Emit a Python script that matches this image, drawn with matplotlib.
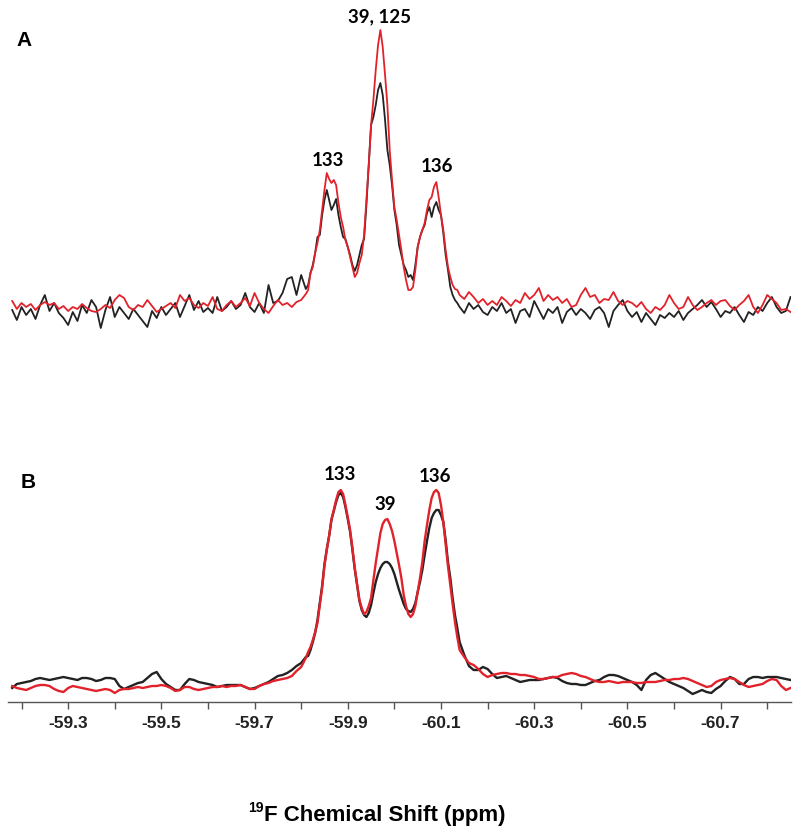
import matplotlib
matplotlib.use("Agg")
import matplotlib.pyplot as plt
import numpy as np

# chemical shift grid (ppm), shared by both panels
ppm = [
    -59.18, -59.19, -59.20, -59.21, -59.22, -59.23, -59.24, -59.25, -59.26, -59.27,
    -59.28, -59.29, -59.30, -59.31, -59.32, -59.33, -59.34, -59.35, -59.36, -59.37,
    -59.38, -59.39, -59.40, -59.41, -59.42, -59.43, -59.44, -59.45, -59.46, -59.47,
    -59.48, -59.49, -59.50, -59.51, -59.52, -59.53, -59.54, -59.55, -59.56, -59.57,
    -59.58, -59.59, -59.60, -59.61, -59.62, -59.63, -59.64, -59.65, -59.66, -59.67,
    -59.68, -59.69, -59.70, -59.71, -59.72, -59.73, -59.74, -59.75, -59.76, -59.77,
    -59.78, -59.79, -59.80, -59.81,
    -59.815, -59.820, -59.825, -59.830, -59.835, -59.840, -59.845, -59.850, -59.855, -59.860,
    -59.865, -59.870, -59.875, -59.880, -59.885, -59.890, -59.895, -59.900, -59.905, -59.910,
    -59.915, -59.920, -59.925, -59.930, -59.935, -59.940, -59.945, -59.950, -59.955, -59.960,
    -59.965, -59.970, -59.975, -59.980, -59.985, -59.990, -59.995, -60.000, -60.005, -60.010,
    -60.015, -60.020, -60.025, -60.030, -60.035, -60.040, -60.045, -60.050, -60.055, -60.060,
    -60.065, -60.070, -60.075, -60.080, -60.085, -60.090, -60.095, -60.100, -60.105, -60.110,
    -60.115, -60.120, -60.125, -60.130, -60.135,
    -60.14, -60.15, -60.16, -60.17, -60.18, -60.19, -60.20, -60.21, -60.22, -60.23,
    -60.24, -60.25, -60.26, -60.27, -60.28, -60.29, -60.30, -60.31, -60.32, -60.33,
    -60.34, -60.35, -60.36, -60.37, -60.38, -60.39, -60.40, -60.41, -60.42, -60.43,
    -60.44, -60.45, -60.46, -60.47, -60.48, -60.49, -60.50, -60.51, -60.52, -60.53,
    -60.54, -60.55, -60.56, -60.57, -60.58, -60.59, -60.60, -60.61, -60.62, -60.63,
    -60.64, -60.65, -60.66, -60.67, -60.68, -60.69, -60.70, -60.71, -60.72, -60.73,
    -60.74, -60.75, -60.76, -60.77, -60.78, -60.79, -60.80, -60.81, -60.82, -60.83,
    -60.84, -60.85,
]

# panel A (noisy spectra), intensity in a.u.
a_red = [
    14, 6, 12, 8, 11, 5, 10, 13, 10, 12, 6, 9, 4, 8, 6, 11, 7, 4, 3, 6,
    10, 7, 15, 20, 17, 8, 5, 10, 8, 15, 9, 3, 6, 9, 12, 7, 20, 14, 17, 10,
    7, 12, 9, 18, 6, 4, 10, 14, 8, 12, 17, 9, 22, 12, 6, 2, 9, 15, 10, 12,
    8, 13, 15, 21,
    25, 42, 48, 62, 72, 85, 105, 125, 142, 136, 132, 135, 130, 112, 98, 88, 75, 68, 58, 48,
    38, 42, 52, 60, 80, 115, 150, 190, 215, 245, 270, 285, 268, 240, 210, 165, 135, 108, 95, 80,
    65, 48, 35, 25, 25, 28, 45, 68, 78, 85, 92, 105, 115, 118, 128, 133, 118, 100, 85, 65,
    48, 38, 30, 26, 25,
    20, 16, 23, 18, 12, 16, 10, 14, 10, 18, 14, 9, 15, 12, 22, 16, 20, 27, 14, 20,
    15, 18, 12, 16, 8, 10, 20, 27, 18, 20, 12, 16, 15, 23, 14, 10, 14, 12, 8, 13,
    6, 2, 8, 5, 10, 20, 12, 6, 8, 18, 10, 5, 8, 12, 15, 10, 14, 15, 9, 5,
    10, 14, 20, 8, 2, 10, 20, 16, 12, 5, 6, 3,
]
a_black = [
    5, -5, 8, 0, 6, -4, 10, 20, 4, 12, 2, -3, -10, 3, -6, 10, 2, 15, 8, -13,
    5, 18, -2, 8, 2, -4, 6, 0, -6, -12, 4, -3, 8, 0, 6, 12, -2, 9, 20, 5,
    14, 3, 7, 2, 18, 4, 8, 14, 6, 10, 22, 8, 3, 12, 2, 30, 12, 14, 22, 36,
    38, 20, 40, 26,
    30, 42, 50, 62, 78, 80, 100, 115, 125, 115, 105, 110, 116, 100, 88, 78, 76, 68, 60, 50,
    44, 50, 60, 70, 76, 110, 150, 190, 198, 210, 225, 232, 220, 195, 165, 150, 130, 105, 90, 70,
    60, 50, 45, 38, 40, 35, 50, 68, 78, 85, 90, 102, 108, 98, 108, 113, 105, 100, 82, 60,
    45, 28, 20, 15, 12,
    8, 2, 12, 6, 10, 3, 0, 8, 4, 12, 2, 6, -8, 4, 6, -2, 14, 5, -4, 6,
    2, 8, -8, 3, 7, 0, 6, 2, -4, 5, 8, 2, -12, 4, 10, 15, 4, -2, 3, -7,
    2, -4, -10, 0, -3, 2, -2, 4, -5, 2, 6, 10, 15, 8, 13, 6, -2, 4, 2, 8,
    0, -7, 3, 0, 8, 4, 12, 18, 8, 2, 4, 18,
]

# panel B (smoothed spectra)
b_red = [
    14, 12, 11, 10, 12, 14, 15, 15, 14, 11, 9, 8, 12, 14, 13, 12, 11, 10, 9, 10,
    11, 10, 7, 10, 11, 11, 12, 13, 12, 13, 14, 14, 15, 14, 12, 9, 10, 13, 13, 11,
    10, 11, 12, 13, 13, 14, 13, 14, 14, 15, 13, 11, 11, 14, 16, 17, 19, 20, 21, 22,
    24, 29, 33, 42,
    48, 53, 60, 68, 77, 95, 112, 134, 150, 164, 181, 190, 200, 208, 210, 206, 195, 183, 170, 152,
    132, 116, 100, 92, 86, 88, 94, 102, 120, 137, 152, 167, 176, 180, 181, 176, 169, 159, 147, 135,
    122, 105, 94, 86, 83, 86, 94, 108, 122, 138, 159, 175, 190, 202, 208, 210, 207, 195, 178, 156,
    134, 115, 96, 78, 63,
    50, 43, 37, 35, 31, 26, 23, 25, 26, 27, 27, 26, 26, 25, 25, 24, 23, 21, 21, 22,
    23, 23, 25, 26, 27, 26, 24, 23, 21, 19, 18, 18, 19, 18, 17, 18, 18, 18, 17, 17,
    18, 18, 18, 19, 20, 20, 21, 21, 22, 21, 19, 17, 15, 13, 14, 18, 20, 21, 22, 21,
    18, 15, 13, 14, 15, 16, 19, 21, 20, 14, 10, 12,
]
b_black = [
    12, 16, 17, 18, 19, 21, 22, 21, 20, 21, 22, 23, 22, 21, 20, 22, 22, 21, 19, 20,
    22, 22, 21, 14, 11, 13, 15, 17, 18, 22, 26, 28, 21, 16, 13, 10, 10, 16, 21, 20,
    18, 17, 16, 15, 13, 14, 15, 15, 15, 15, 13, 11, 12, 14, 16, 18, 21, 24, 25, 27,
    30, 34, 37, 43,
    44, 50, 58, 67, 80, 97, 114, 136, 151, 164, 180, 189, 198, 205, 207, 203, 193, 181, 168, 150,
    131, 115, 99, 90, 85, 83, 87, 95, 107, 118, 126, 132, 136, 138, 138, 136, 132, 126, 118, 110,
    103, 96, 91, 89, 88, 91, 97, 108, 118, 130, 145, 159, 172, 182, 187, 190, 190, 185, 178, 160,
    138, 122, 102, 85, 72,
    58, 45, 34, 30, 30, 33, 31, 26, 22, 23, 24, 22, 20, 18, 19, 20, 20, 20, 21, 22,
    23, 22, 19, 17, 16, 16, 15, 15, 17, 19, 20, 23, 25, 25, 24, 22, 20, 18, 15, 10,
    20, 25, 27, 24, 21, 18, 16, 14, 12, 9, 6, 8, 10, 8, 7, 11, 14, 19, 23, 21,
    16, 16, 21, 23, 23, 22, 23, 23, 23, 22, 21, 20,
]

tick_pos = [-59.2, -59.3, -59.4, -59.5, -59.6, -59.7, -59.8, -59.9, -60.0,
            -60.1, -60.2, -60.3, -60.4, -60.5, -60.6, -60.7, -60.8]
tick_labels = ['', '-59.3', '', '-59.5', '', '-59.7', '', '-59.9', '',
               '-60.1', '', '-60.3', '', '-60.5', '', '-60.7', '']

peaks_a = [(-59.969, 298, '39, 125'), (-59.857, 154, '133'), (-60.091, 148, '136')]
peaks_b = [(-59.883, 225, '133'), (-59.980, 195, '39'), (-60.087, 223, '136')]

red = '#e2222b'
black = '#222222'
xlim = (-59.171, -60.851)

fig = plt.figure(figsize=(8.0, 8.39), dpi=100)
W, H = 800, 839

# panel A
axA = fig.add_axes([8 / W, 1 - 335 / H, 783 / W, 320 / H])
axA.plot(ppm, a_black, color=black, lw=1.3)
axA.plot(ppm, a_red, color=red, lw=1.3)
axA.set_xlim(xlim)
axA.set_ylim(-20, 300)
axA.axis('off')
for x, y, s in peaks_a:
    axA.text(x, y, s, ha='center', va='center', fontsize=13.5,
             fontweight='bold', family=['Lato', 'DejaVu Sans'], clip_on=False)

# panel B
axB = fig.add_axes([8 / W, 1 - 702 / H, 783 / W, 232 / H])
axB.plot(ppm, b_black, color=black, lw=1.7)
axB.plot(ppm, b_red, color=red, lw=1.7)
axB.set_xlim(xlim)
axB.set_ylim(-2, 230)
for s in ['top', 'left', 'right']:
    axB.spines[s].set_visible(False)
axB.spines['bottom'].set_color('#555555')
axB.spines['bottom'].set_linewidth(1.0)
axB.set_yticks([])
axB.set_xticks(tick_pos)
axB.set_xticklabels(tick_labels, fontsize=12.5, fontweight='bold',
                    family='Liberation Sans', color='#222222')
axB.tick_params(axis='x', length=5, width=1.0, color='#555555', pad=5)
for x, y, s in peaks_b:
    axB.text(x, y, s, ha='center', va='center', fontsize=13.5,
             fontweight='bold', family=['Lato', 'DejaVu Sans'], clip_on=False)

# panel letters
fig.text(24 / W, 1 - 40 / H, 'A', ha='center', va='center', fontsize=15,
         fontweight='bold', family='Liberation Sans')
fig.text(28 / W, 1 - 482 / H, 'B', ha='center', va='center', fontsize=15,
         fontweight='bold', family='Liberation Sans')

# axis title with superscript
fig.text(264 / W, 1 - 815 / H, 'F Chemical Shift (ppm)', ha='left', va='center',
         fontsize=16, fontweight='bold', family=['Liberation Sans Narrow', 'Liberation Sans'])
fig.text(264 / W, 1 - 808 / H, '19', ha='right', va='center',
         fontsize=10, fontweight='bold', family=['Liberation Sans Narrow', 'Liberation Sans'])

fig.savefig('out.png', dpi=100)
